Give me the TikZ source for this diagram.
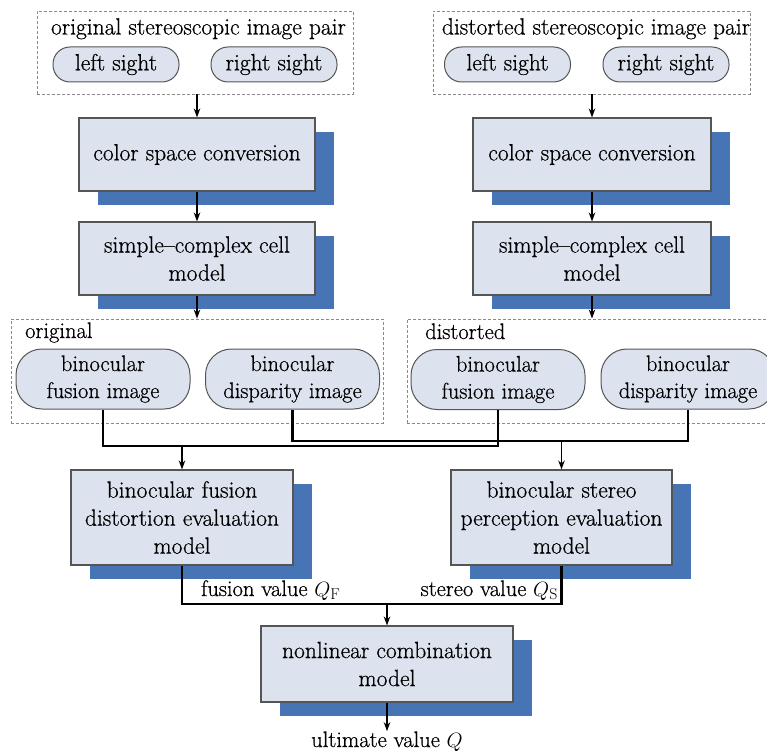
\documentclass[tikz,border=0pt]{standalone}
\usepackage{fontspec}
\setmainfont{Latin Modern Roman}[BoldFont=Latin Modern Roman, BoldFeatures={FakeBold=0.6}]
\usetikzlibrary{arrows.meta,shadows}
\definecolor{boxfill}{HTML}{DCE3EE}
\definecolor{shadowblue}{HTML}{4674B5}
\definecolor{boxline}{HTML}{555555}
\definecolor{dashline}{HTML}{8A8A8A}
\begin{document}
\begin{tikzpicture}[x=1pt,y=-1pt,
  font=\fontsize{23.5}{28}\selectfont\bfseries,
  smallfont/.style={font=\fontsize{22.5}{27}\selectfont\bfseries},
  procbox/.style={draw=boxline, line width=1.1pt, fill=boxfill, inner sep=0pt, align=center,
    drop shadow={shadow xshift=19pt, shadow yshift=-14pt, fill=shadowblue, opacity=1, draw=none}},
  pill/.style={draw=boxline, line width=1pt, fill=boxfill, inner sep=0pt, align=center},
  smallpill/.style={pill, rounded corners=17pt, minimum width=126pt, minimum height=35pt},
  bigpill/.style={pill, smallfont, rounded corners=26pt, minimum width=174pt, minimum height=60pt},
  group/.style={draw=dashline, dash pattern=on 3pt off 2pt, line width=0.9pt, inner sep=0pt},
  thickline/.style={line width=2.8pt},
  arr/.style={line width=1.5pt, -{Stealth[length=9pt,width=6.5pt]}},
  lbl/.style={inner sep=0pt}
]
\useasboundingbox (0,0) rectangle (767,751);

% top groups
\node[group, minimum width=316pt, minimum height=83pt] (og) at (195,52.5) {};
\node[lbl, anchor=base] (ogt) at (198.5,34.5) {original stereoscopic image pair};
\node[smallpill] (oL) at (116,64.5) {left sight};
\node[smallpill] (oR) at (274,64.5) {right sight};

\node[group, minimum width=317pt, minimum height=83pt] (dg) at (591.5,52.5) {};
\node[lbl, anchor=base] (dgt) at (596,34.5) {distorted stereoscopic image pair};
\node[smallpill] (dL) at (507.5,64.5) {left sight};
\node[smallpill] (dR) at (666,64.5) {right sight};

% processing boxes
\node[procbox, minimum width=236pt, minimum height=73pt] (oC) at (197,154.5) {color space conversion};
\node[procbox, minimum width=238pt, minimum height=73pt] (dC) at (592,154.5) {color space conversion};
\node[procbox, minimum width=236pt, minimum height=73pt] (oS) at (197,258.5) {simple--complex cell\\model};
\node[procbox, minimum width=238pt, minimum height=73pt] (dS) at (592,258.5) {simple--complex cell\\model};

% middle groups
\node[group, minimum width=372pt, minimum height=104pt] (ogr) at (197,371) {};
\node[lbl, smallfont, anchor=base west] (ogrt) at (25,338) {original};
\node[bigpill] (oF) at (103,379) {binocular\\fusion image};
\node[bigpill] (oD) at (292.5,379) {binocular\\disparity image};

\node[group, minimum width=380pt, minimum height=104pt] (dgr) at (597,371) {};
\node[lbl, smallfont, anchor=base west] (dgrt) at (425,339) {distorted};
\node[bigpill] (dF) at (498,379.5) {binocular\\fusion image};
\node[bigpill] (dD) at (688,379) {binocular\\disparity image};

% evaluation models
\node[procbox, minimum width=222pt, minimum height=95pt] (oM) at (182,517.5) {binocular fusion\\distortion evaluation\\model};
\node[procbox, minimum width=221pt, minimum height=95pt] (dM) at (561.5,517.5) {binocular stereo\\perception evaluation\\model};

\node[procbox, minimum width=252pt, minimum height=76pt] (nl) at (387,664) {nonlinear combination\\model};

\node[lbl, smallfont, anchor=base] (ult) at (387,747) {ultimate value $Q$};
\node[lbl, smallfont, anchor=base west] (fv) at (201,596) {fusion value $Q_{\mathrm{F}}$};
\node[lbl, smallfont, anchor=base east] (sv) at (558,596) {stereo value $Q_{\mathrm{S}}$};

% junction coordinates
\coordinate (fj) at (0,446);
\coordinate (dj) at (0,441);
\coordinate (bj) at (0,604);

% arrows top
\draw[arr] (og.south -| oC.north) -- (oC.north);
\draw[arr] (dg.south -| dC.north) -- (dC.north);
\draw[arr] (oC.south) -- (oS.north);
\draw[arr] (dC.south) -- (dS.north);
\draw[arr] (oS.south) -- (oS.south |- ogr.north);
\draw[arr] (dS.south) -- (dS.south |- dgr.north);

% joining lines
\draw[thickline] (oF.south) -- (oF.south |- fj) -- (dF.south |- fj) -- (dF.south);
\draw[thickline] (oD.south) -- (oD.south |- dj) -- (dD.south |- dj) -- (dD.south);
\draw[arr] (oM.north |- fj) -- (oM.north);
\draw[arr] (dM.north |- dj) -- (dM.north);

\draw[thickline] (oM.south) -- (oM.south |- bj) -- (dM.south |- bj) -- (dM.south);
\draw[arr] (nl.north |- bj) -- (nl.north);
\draw[arr] (nl.south) -- (ult.north);
\end{tikzpicture}
\end{document}
